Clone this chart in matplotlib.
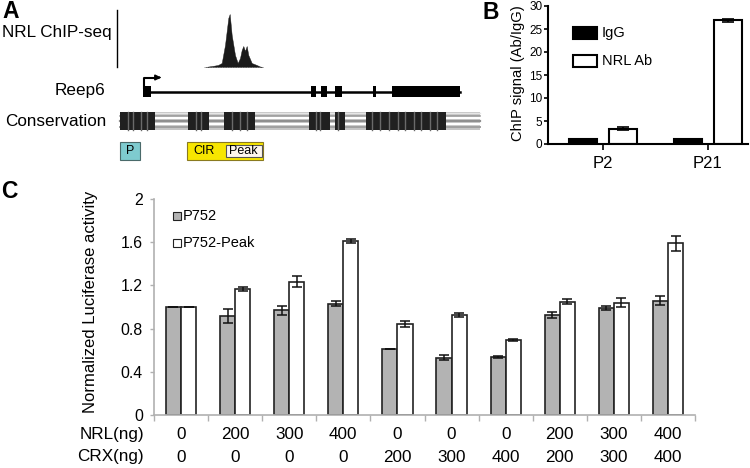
import numpy as np
import matplotlib
matplotlib.use('Agg')
import matplotlib.pyplot as plt
from matplotlib.patches import Rectangle

plt.rcParams['font.family'] = ['Liberation Sans', 'DejaVu Sans']

W, H = 750, 468

# panel A - genome track (pixel positions along the locus)
peak_x = [205, 212, 218, 221.7, 225, 228.3, 229.7, 231.7, 235, 237.7, 240, 241.7, 243.3, 245, 246.7, 248.3, 251.7, 256.7, 260, 263]
peak_h = [0, 1, 2, 4, 22, 49, 53, 32, 12, 4, 9, 17, 21, 16, 21, 12, 4, 2, 0.5, 0]
exons = [(143, 151), (311, 316), (321, 327), (335, 342), (373, 376), (392, 460)]
cons_blocks = [(120, 155), (188, 209), (224, 255), (309, 330), (335, 345), (366, 446)]
cons_light = [128, 133, 141, 147, 196, 201, 232, 240, 247, 316, 320, 338, 372, 380, 389, 398, 405, 414, 421, 430, 437]

# panel B - ChIP
b_groups = ['P2', 'P21']
b_igg = [1.0, 1.0]
b_nrl = [3.3, 26.9]
b_nrl_err = [0.3, 0.35]

# panel C - luciferase
nrl_ng = ['0', '200', '300', '400', '0', '0', '0', '200', '300', '400']
crx_ng = ['0', '0', '0', '0', '200', '300', '400', '200', '300', '400']
p752 = [1.0, 0.915, 0.97, 1.03, 0.61, 0.53, 0.535, 0.925, 0.99, 1.06]
p752_err = [0.0, 0.065, 0.04, 0.025, 0.003, 0.022, 0.01, 0.025, 0.018, 0.045]
peak = [1.0, 1.165, 1.235, 1.61, 0.845, 0.925, 0.695, 1.05, 1.04, 1.59]
peak_err = [0.0, 0.02, 0.05, 0.015, 0.03, 0.017, 0.008, 0.02, 0.04, 0.07]

fig = plt.figure(figsize=(W / 100, H / 100), dpi=100)


def px_axes(l, t, r, b):
    return fig.add_axes([l / W, 1 - b / H, (r - l) / W, (b - t) / H])


# ---------- A ----------
# overlay in pixel coords, sits above the B and C axes so legends show
a = fig.add_axes([0, 0, 1, 1])
a.set_xlim(0, W)
a.set_ylim(H, 0)
a.axis('off')
a.patch.set_visible(False)
a.set_zorder(5)

a.text(2, 18, 'A', fontsize=16.5, fontweight='bold', ha='left', va='baseline')
a.text(2, 32, 'NRL ChIP-seq', fontsize=12.3, ha='left', va='center')
a.plot([117, 117], [10, 67], color='k', lw=1)
base = 67
a.fill_between(peak_x, base, [base - h for h in peak_h], color='#1a1a1a', lw=0.3)
a.plot([204, 264], [base, base], color='#888888', lw=0.6, ls=(0, (1, 2)))

a.text(105, 91, 'Reep6', fontsize=12.3, ha='right', va='center')
a.plot([144, 460], [91.5, 91.5], color='k', lw=1.8)
for s, e in exons:
    a.add_patch(Rectangle((s, 86), e - s, 10.5, color='k', lw=0))
a.plot([144, 144, 158], [88, 77.5, 77.5], color='k', lw=1.5)
a.annotate('', xy=(164, 77.5), xytext=(156, 77.5),
           arrowprops=dict(arrowstyle='-|>', color='k', lw=1.2, mutation_scale=8))

a.text(5, 121, 'Conservation', fontsize=12.3, ha='left', va='center')
a.add_patch(Rectangle((120, 112), 360, 18, color='#c4c4c4', lw=0, zorder=1))
for yy, c, lw in [(113, '#e6e6e6', 1.0), (115.5, '#9a9a9a', 1.2), (118, '#ffffff', 1.6),
                  (121, '#8f8f8f', 1.6), (124, '#ffffff', 1.6), (127, '#a0a0a0', 1.4)]:
    a.plot([120, 480], [yy, yy], color=c, lw=lw, zorder=2)
for s, e in cons_blocks:
    a.add_patch(Rectangle((s, 112), e - s, 18, color='#202020', lw=0, zorder=3))
for xx in cons_light:
    a.plot([xx, xx], [112, 130], color='#6a6a6a', lw=1.0, zorder=4)

a.add_patch(Rectangle((120, 142), 20, 17.5, facecolor='#7ecbcf', edgecolor='#4a6a6a', lw=0.8))
a.text(130, 151, 'P', fontsize=9, ha='center', va='center')
a.add_patch(Rectangle((187, 142), 76, 17.5, facecolor='#f7e600', edgecolor='#8a7a20', lw=0.8))
a.text(204, 151, 'CIR', fontsize=9, ha='center', va='center')
a.add_patch(Rectangle((225.5, 144.5), 36, 12.5, facecolor='#fdf6ee', edgecolor='#555555', lw=0.8))
a.text(243.5, 151, 'Peak', fontsize=9, ha='center', va='center')

# ---------- B ----------
a.text(483, 19, 'B', fontsize=16.5, fontweight='bold', ha='left', va='baseline')
b = px_axes(548, 6, 748, 144)
bx = np.arange(len(b_groups))
bw = 0.267
b.bar(bx - 0.19, b_igg, bw, color='k', edgecolor='k', lw=1.5)
b.bar(bx + 0.19, b_nrl, bw, color='white', edgecolor='k', lw=1.5)
b.errorbar(bx + 0.19, b_nrl, yerr=b_nrl_err, fmt='none', ecolor='k', elinewidth=1.2, capsize=4, capthick=1.2)
b.set_xlim(-0.524, 1.381)
b.set_ylim(0, 30)
b.set_yticks(range(0, 31, 5))
b.set_xticks(bx)
b.set_xticklabels(b_groups, fontsize=12)
b.tick_params(axis='y', labelsize=8.5, direction='out', length=3, width=1.2, pad=1)
b.tick_params(axis='x', direction='out', length=4, width=1.2, pad=5)
for sp in ['top', 'right']:
    b.spines[sp].set_visible(False)
for sp in ['left', 'bottom']:
    b.spines[sp].set_linewidth(1.5)
a.text(518, 73, 'ChIP signal (Ab/IgG)', fontsize=10.6, rotation=90, ha='center', va='center')
# legend
a.add_patch(Rectangle((573, 27), 24, 12, facecolor='k', edgecolor='k', lw=1.5))
a.text(602, 33, 'IgG', fontsize=10.5, ha='left', va='center')
a.add_patch(Rectangle((573, 55), 24, 12, facecolor='white', edgecolor='k', lw=1.5))
a.text(602, 61, 'NRL Ab', fontsize=10.5, ha='left', va='center')

# ---------- C ----------
a.text(1, 198, 'C', fontsize=16.5, fontweight='bold', ha='left', va='baseline')
c = px_axes(154, 199, 695, 415)
cx = np.arange(len(p752))
cw = 0.28
grey_ax = '#b0b0b0'
c.bar(cx - cw / 2, p752, cw, color='#b3b3b3', edgecolor='#222222', lw=1.2)
c.bar(cx + cw / 2, peak, cw, color='white', edgecolor='#222222', lw=1.2)
c.errorbar(cx - cw / 2, p752, yerr=p752_err, fmt='none', ecolor='#111111', elinewidth=1.1, capsize=3.5, capthick=1.1)
c.errorbar(cx + cw / 2, peak, yerr=peak_err, fmt='none', ecolor='#111111', elinewidth=1.1, capsize=3.5, capthick=1.1)
c.set_xlim(-0.5, len(p752) - 0.5)
c.set_ylim(0, 2)
c.set_yticks([0, 0.4, 0.8, 1.2, 1.6, 2])
c.set_yticklabels(['0', '0.4', '0.8', '1.2', '1.6', '2'])
c.set_xticks(np.arange(-0.5, len(p752)))
c.set_xticklabels([])
c.tick_params(axis='x', direction='out', length=4, color=grey_ax, width=1)
c.tick_params(axis='y', direction='out', length=3, color=grey_ax, width=1, labelsize=11.4, pad=5)
for sp in ['top', 'right']:
    c.spines[sp].set_visible(False)
for sp in ['left', 'bottom']:
    c.spines[sp].set_color(grey_ax)
    c.spines[sp].set_linewidth(1.2)
a.text(90, 302, 'Normalized Luciferase activity', fontsize=12, rotation=90, ha='center', va='center')
# legend
a.add_patch(Rectangle((173, 212), 8, 8, facecolor='#b3b3b3', edgecolor='#222222', lw=0.8))
a.text(183, 216, 'P752', fontsize=10.5, ha='left', va='center')
a.add_patch(Rectangle((173, 239), 8, 8, facecolor='white', edgecolor='#222222', lw=0.8))
a.text(183, 243, 'P752-Peak', fontsize=10.5, ha='left', va='center')

for i in range(len(p752)):
    c.text(i, -0.185, nrl_ng[i], fontsize=12.3, ha='center', va='center', clip_on=False)
    c.text(i, -0.39, crx_ng[i], fontsize=12.3, ha='center', va='center', clip_on=False)
a.text(144, 435, 'NRL(ng)', fontsize=12.3, ha='right', va='center')
a.text(144, 457, 'CRX(ng)', fontsize=12.3, ha='right', va='center')

fig.savefig('out.png', dpi=100)
